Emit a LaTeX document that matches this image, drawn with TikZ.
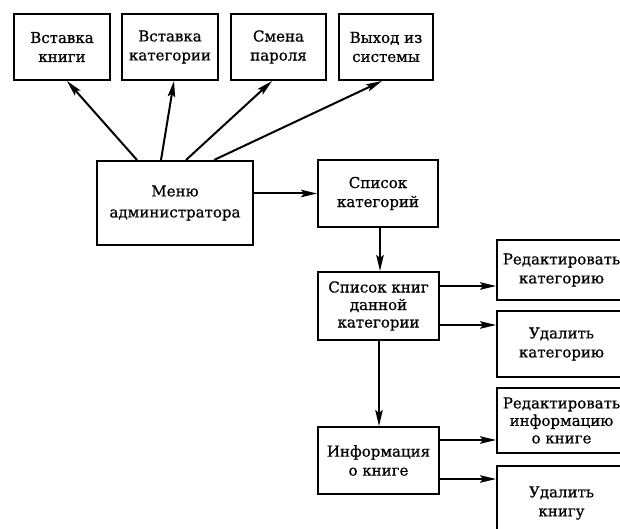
\documentclass[tikz,border=0pt]{standalone}
\usepackage{fontspec}
\setmainfont{DejaVu Serif}[FakeBold=0.7]
\usetikzlibrary{arrows.meta}
\begin{document}
\begin{tikzpicture}[x=1pt,y=-1pt,
  box/.style={draw,line width=2pt,rectangle,inner sep=0pt,align=center,
    font=\fontsize{15}{19}\selectfont},
  arr/.style={line width=2pt,-{Stealth[length=16pt,width=7.5pt,inset=3pt]}}]
\useasboundingbox (0,0) rectangle (620,529);
\begin{scope}
\clip (0,0) rectangle (620,529);
\node[box,minimum width=96pt,minimum height=66pt] (b1) at (62,47) {Вставка\\книги};
\node[box,minimum width=96pt,minimum height=66pt] (b2) at (170,47) {Вставка\\категории};
\node[box,minimum width=95pt,minimum height=66pt] (b3) at (278.5,47) {Смена\\пароля};
\node[box,minimum width=94pt,minimum height=66pt] (b4) at (386,47) {Выход из\\системы};
\node[box,font=\fontsize{15}{21}\selectfont,minimum width=156pt,minimum height=84pt] (menu) at (175,203) {Меню\\администратора};
\node[box,minimum width=120pt,minimum height=67pt] (cat) at (378,193.5) {Список\\категорий};
\node[box,font=\fontsize{15}{17.5}\selectfont,minimum width=121pt,minimum height=68pt] (books) at (378.5,306) {Список книг\\данной\\категории};
\node[box,minimum width=121pt,minimum height=67pt] (info) at (378.5,460.5) {Информация\\о книге};
\node[box,minimum width=129pt,minimum height=60pt] (editcat) at (561.5,270) {Редактировать\\категорию};
\node[box,minimum width=129pt,minimum height=66pt] (delcat) at (561.5,344) {Удалить\\категорию};
\node[box,font=\fontsize{15}{17.5}\selectfont,minimum width=129pt,minimum height=65pt] (editinfo) at (561.5,420.5) {Редактировать\\информацию\\о книге};
\node[box,minimum width=129pt,minimum height=74pt] (delbook) at (561.5,503) {Удалить\\книгу};
\end{scope}
\coordinate (m1) at ([xshift=41pt]menu.north west);
\coordinate (m2) at ([xshift=65pt]menu.north west);
\coordinate (m3) at ([xshift=90pt]menu.north west);
\coordinate (m4) at ([xshift=118pt]menu.north west);
\draw[arr] (m1) -- ([xshift=54pt]b1.south west);
\draw[arr] (m2) -- ([xshift=53pt]b2.south west);
\draw[arr] (m3) -- ([xshift=42pt]b3.south west);
\draw[arr] (m4) -- ([xshift=44pt]b4.south west);
\draw[arr] (menu.east |- cat.west) -- (cat.west);
\draw[arr] ([xshift=2pt]cat.south) -- ([xshift=2pt]cat.south |- books.north);
\coordinate (bk1) at ([yshift=20pt]books.east);
\coordinate (bk2) at ([yshift=-19pt]books.east);
\draw[arr] (bk1) -- (bk1 -| editcat.west);
\draw[arr] (bk2) -- (bk2 -| delcat.west);
\draw[arr] ([xshift=0.5pt]books.south) -- ([xshift=0.5pt]books.south |- info.north);
\coordinate (in1) at ([yshift=20.5pt]info.east);
\coordinate (in2) at ([yshift=-18.5pt]info.east);
\draw[arr] (in1) -- (in1 -| editinfo.west);
\draw[arr] (in2) -- (in2 -| delbook.west);
\end{tikzpicture}
\end{document}
